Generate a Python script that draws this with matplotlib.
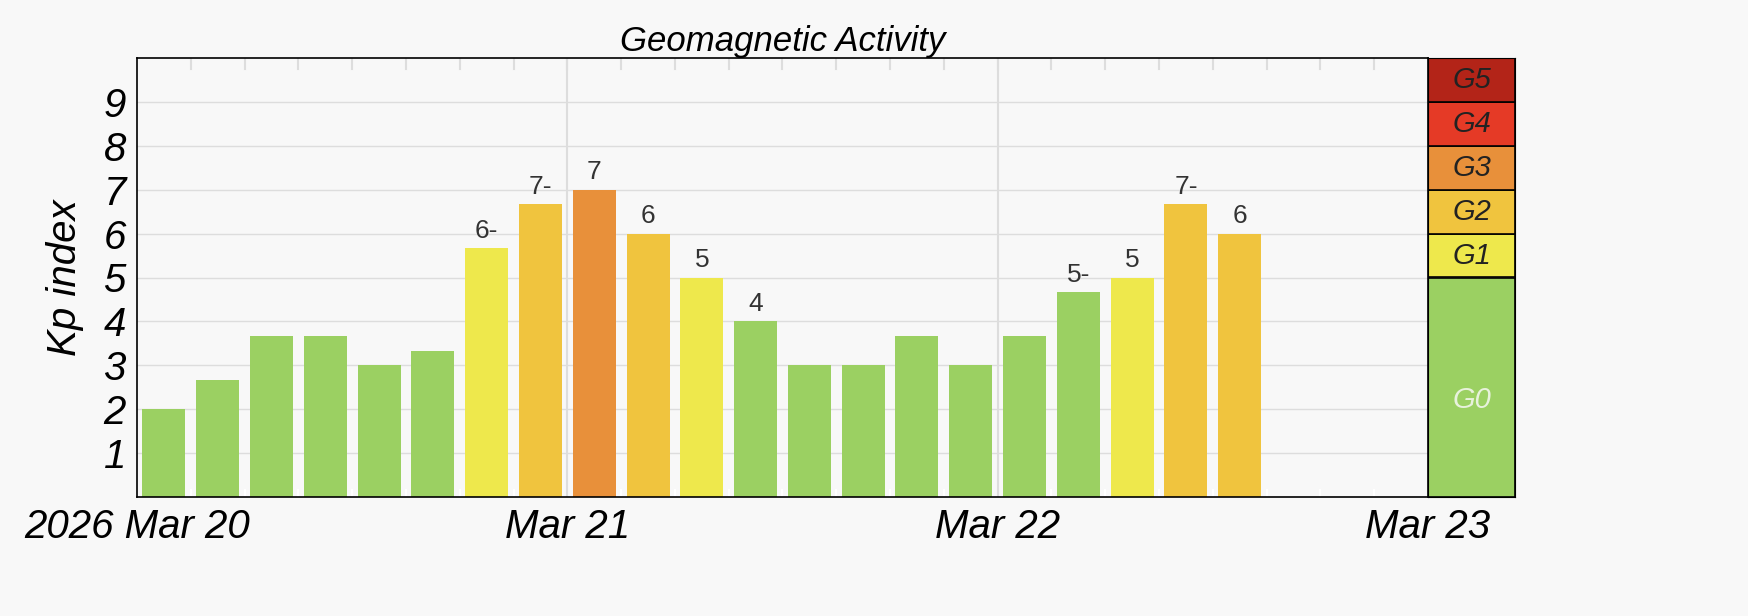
import matplotlib
matplotlib.use("Agg")
import matplotlib.pyplot as plt
import numpy as np

# 3-hour Kp values starting 2026 Mar 20 00 UT
kp_values = [2, 2.67, 3.67, 3.67, 3, 3.33, 5.67, 6.67,
             7, 6, 5, 4, 3, 3, 3.67, 3,
             3.67, 4.67, 5, 6.67, 6]
kp_labels = ["", "", "", "", "", "", "6-", "7-",
             "7", "6", "5", "4", "", "", "", "",
             "", "5-", "5", "7-", "6"]
day_labels = ["2026 Mar 20", "Mar 21", "Mar 22", "Mar 23"]
g_names = ["G0", "G1", "G2", "G3", "G4", "G5"]
g_bounds = [0, 5, 6, 7, 8, 9, 10]
g_colors = ["#9bd062", "#eee84c", "#f0c43e", "#e8903a", "#e53a26", "#b32418"]

plt.rcParams['font.family'] = ['Liberation Sans', 'DejaVu Sans']
fig = plt.figure(figsize=(17.48, 6.16), dpi=100)
fig.patch.set_facecolor("#f8f8f8")
ax = fig.add_axes([137/1748, 1-497/616, (1428-137)/1748, (497-58)/616])
gax = fig.add_axes([1428/1748, 1-497/616, (1515-1428)/1748, (497-58)/616])

def level(v):
    return max(0, min(5, int(np.floor(v + 1e-6)) - 4))

x = np.arange(len(kp_values)) * 3 + 1.5
ax.set_facecolor("#f8f8f8")
for h in range(1, 10):
    ax.axhline(h, color="#dddddd", lw=1, zorder=0)
for d in (24, 48):
    ax.axvline(d, color="#dddddd", lw=1.5, zorder=0)
for xi, v, lab in zip(x, kp_values, kp_labels):
    ax.bar(xi, v, width=2.4, color=g_colors[level(v)], zorder=2)
    if lab:
        ax.text(xi, v + 0.12, lab, ha="center", va="bottom", fontsize=19, color="#333333")
ax.set_xlim(0, 72)
ax.set_ylim(0, 10)
ax.set_yticks(range(1, 10))
ax.tick_params(axis="y", labelsize=29, length=0, pad=8)
for t in ax.get_yticklabels():
    t.set_fontstyle("italic")
ax.set_xticks([0, 24, 48, 72])
ax.set_xticklabels(day_labels, fontsize=29, fontstyle="italic")
ax.set_xticks(np.arange(0, 73, 3), minor=True)
ax.tick_params(axis="x", which="major", length=0, pad=8)
ax.tick_params(axis="x", which="minor", length=6, color="white", direction="in", width=1.5)
for xm in np.arange(3, 72, 3):
    ax.plot([xm, xm], [10, 9.75], color="#dddddd", lw=1.5, zorder=1)
ax.set_ylabel("Kp index", fontsize=29, fontstyle="italic", labelpad=14)
ax.set_title("Geomagnetic Activity", fontsize=25, fontstyle="italic", pad=4)
for s in ax.spines.values():
    s.set_linewidth(1.2)

for i, name in enumerate(g_names):
    lo, hi = g_bounds[i], g_bounds[i + 1]
    gax.bar(0.5, hi - lo, bottom=lo, width=1, color=g_colors[i], edgecolor="black", lw=1.2)
    gax.text(0.5, (lo + hi) / 2 - (0.3 if i == 0 else 0), name, ha="center", va="center",
             fontsize=21, fontstyle="italic", color="#e8f2dc" if i == 0 else "#222222")
gax.set_xlim(0, 1)
gax.set_ylim(0, 10)
gax.set_xticks([])
gax.set_yticks([])

fig.savefig("out.png", dpi=100, facecolor=fig.get_facecolor())
